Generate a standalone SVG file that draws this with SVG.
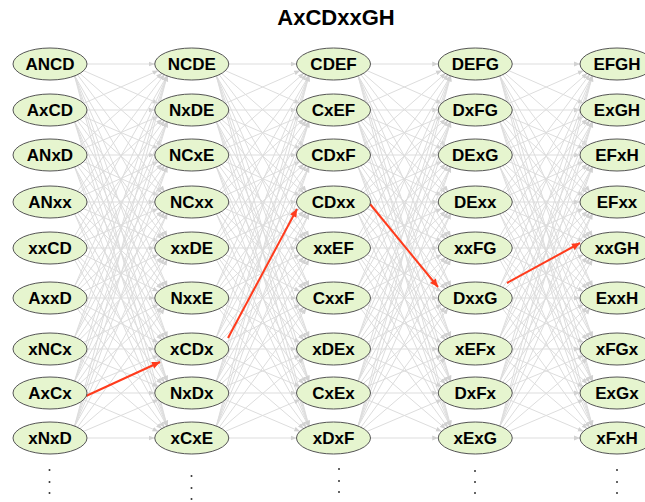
<svg xmlns="http://www.w3.org/2000/svg" xmlns:xlink="http://www.w3.org/1999/xlink" width="645" height="502" viewBox="0 0 645 502">
<style>
.e line{stroke:#dddddd;stroke-width:1;fill:none;marker-end:url(#ag)}
.r{stroke:#ff3b1c;stroke-width:2;fill:none;marker-end:url(#ar)}
.node ellipse{fill:#e6f5cf;stroke:#555;stroke-width:1}
.node text{font-family:"Liberation Sans",Arial,sans-serif;font-weight:bold;font-size:17px;fill:#000;text-anchor:middle}
.title{font-family:"Liberation Sans",Arial,sans-serif;font-weight:bold;font-size:22px;fill:#000;text-anchor:middle}
.dot{fill:#333}
</style>
<defs>
<marker id="ag" viewBox="0 0 10 10" refX="10" refY="5" markerWidth="6" markerHeight="6" markerUnits="userSpaceOnUse" orient="auto"><path d="M0,1 L10,5 L0,9 z" fill="#d2d2d2"/></marker>
<marker id="ar" viewBox="0 0 10 10" refX="10" refY="5" markerWidth="9" markerHeight="8" markerUnits="userSpaceOnUse" orient="auto"><path d="M0,0.5 L10,5 L0,9.5 z" fill="#ff3b1c"/></marker>
</defs>
<rect width="645" height="502" fill="#fff"/>
<text class="title" x="336" y="25">AxCDxxGH</text>
<g id="connectors">
<g id="gap01" class="e">
<line x1="87" y1="64" x2="154.75" y2="64"/>
<line x1="83.3" y1="70.5" x2="158.45" y2="103.5"/>
<line x1="79.5" y1="73.1" x2="162.25" y2="145.9"/>
<line x1="77.1" y1="74.2" x2="164.65" y2="191.8"/>
<line x1="74.4" y1="75.3" x2="167.35" y2="236.7"/>
<line x1="74.4" y1="75.3" x2="167.35" y2="286.7"/>
<line x1="74.4" y1="75.3" x2="167.35" y2="337.7"/>
<line x1="74.4" y1="75.3" x2="167.35" y2="381.7"/>
<line x1="74.4" y1="75.3" x2="167.35" y2="426.7"/>
<line x1="83.3" y1="103.5" x2="158.45" y2="70.5"/>
<line x1="87" y1="110" x2="154.75" y2="110"/>
<line x1="83.3" y1="116.5" x2="158.45" y2="148.5"/>
<line x1="79.5" y1="119.1" x2="162.25" y2="192.9"/>
<line x1="77.1" y1="120.2" x2="164.65" y2="237.8"/>
<line x1="74.4" y1="121.3" x2="167.35" y2="286.7"/>
<line x1="74.4" y1="121.3" x2="167.35" y2="337.7"/>
<line x1="74.4" y1="121.3" x2="167.35" y2="381.7"/>
<line x1="74.4" y1="121.3" x2="167.35" y2="426.7"/>
<line x1="79.5" y1="145.9" x2="162.25" y2="73.1"/>
<line x1="83.3" y1="148.5" x2="158.45" y2="116.5"/>
<line x1="87" y1="155" x2="154.75" y2="155"/>
<line x1="83.3" y1="161.5" x2="158.45" y2="195.5"/>
<line x1="79.5" y1="164.1" x2="162.25" y2="238.9"/>
<line x1="77.1" y1="165.2" x2="164.65" y2="287.8"/>
<line x1="74.4" y1="166.3" x2="167.35" y2="337.7"/>
<line x1="74.4" y1="166.3" x2="167.35" y2="381.7"/>
<line x1="74.4" y1="166.3" x2="167.35" y2="426.7"/>
<line x1="77.1" y1="191.8" x2="164.65" y2="74.2"/>
<line x1="79.5" y1="192.9" x2="162.25" y2="119.1"/>
<line x1="83.3" y1="195.5" x2="158.45" y2="161.5"/>
<line x1="87" y1="202" x2="154.75" y2="202"/>
<line x1="83.3" y1="208.5" x2="158.45" y2="241.5"/>
<line x1="79.5" y1="211.1" x2="162.25" y2="288.9"/>
<line x1="77.1" y1="212.2" x2="164.65" y2="338.8"/>
<line x1="74.4" y1="213.3" x2="167.35" y2="381.7"/>
<line x1="74.4" y1="213.3" x2="167.35" y2="426.7"/>
<line x1="74.4" y1="236.7" x2="167.35" y2="75.3"/>
<line x1="77.1" y1="237.8" x2="164.65" y2="120.2"/>
<line x1="79.5" y1="238.9" x2="162.25" y2="164.1"/>
<line x1="83.3" y1="241.5" x2="158.45" y2="208.5"/>
<line x1="87" y1="248" x2="154.75" y2="248"/>
<line x1="83.3" y1="254.5" x2="158.45" y2="291.5"/>
<line x1="79.5" y1="257.1" x2="162.25" y2="339.9"/>
<line x1="77.1" y1="258.2" x2="164.65" y2="382.8"/>
<line x1="74.4" y1="259.3" x2="167.35" y2="426.7"/>
<line x1="74.4" y1="286.7" x2="167.35" y2="75.3"/>
<line x1="74.4" y1="286.7" x2="167.35" y2="121.3"/>
<line x1="77.1" y1="287.8" x2="164.65" y2="165.2"/>
<line x1="79.5" y1="288.9" x2="162.25" y2="211.1"/>
<line x1="83.3" y1="291.5" x2="158.45" y2="254.5"/>
<line x1="87" y1="298" x2="154.75" y2="298"/>
<line x1="83.3" y1="304.5" x2="158.45" y2="342.5"/>
<line x1="79.5" y1="307.1" x2="162.25" y2="383.9"/>
<line x1="77.1" y1="308.2" x2="164.65" y2="427.8"/>
<line x1="74.4" y1="337.7" x2="167.35" y2="75.3"/>
<line x1="74.4" y1="337.7" x2="167.35" y2="121.3"/>
<line x1="74.4" y1="337.7" x2="167.35" y2="166.3"/>
<line x1="77.1" y1="338.8" x2="164.65" y2="212.2"/>
<line x1="79.5" y1="339.9" x2="162.25" y2="257.1"/>
<line x1="83.3" y1="342.5" x2="158.45" y2="304.5"/>
<line x1="87" y1="349" x2="154.75" y2="349"/>
<line x1="83.3" y1="355.5" x2="158.45" y2="386.5"/>
<line x1="79.5" y1="358.1" x2="162.25" y2="428.9"/>
<line x1="74.4" y1="381.7" x2="167.35" y2="75.3"/>
<line x1="74.4" y1="381.7" x2="167.35" y2="121.3"/>
<line x1="74.4" y1="381.7" x2="167.35" y2="166.3"/>
<line x1="74.4" y1="381.7" x2="167.35" y2="213.3"/>
<line x1="77.1" y1="382.8" x2="164.65" y2="258.2"/>
<line x1="79.5" y1="383.9" x2="162.25" y2="307.1"/>
<line x1="83.3" y1="386.5" x2="158.45" y2="355.5"/>
<line x1="87" y1="393" x2="154.75" y2="393"/>
<line x1="83.3" y1="399.5" x2="158.45" y2="431.5"/>
<line x1="74.4" y1="426.7" x2="167.35" y2="75.3"/>
<line x1="74.4" y1="426.7" x2="167.35" y2="121.3"/>
<line x1="74.4" y1="426.7" x2="167.35" y2="166.3"/>
<line x1="74.4" y1="426.7" x2="167.35" y2="213.3"/>
<line x1="74.4" y1="426.7" x2="167.35" y2="259.3"/>
<line x1="77.1" y1="427.8" x2="164.65" y2="308.2"/>
<line x1="79.5" y1="428.9" x2="162.25" y2="358.1"/>
<line x1="83.3" y1="431.5" x2="158.45" y2="399.5"/>
<line x1="87" y1="438" x2="154.75" y2="438"/>
</g>
<use id="gap12" xlink:href="#gap01" href="#gap01" transform="translate(141.75 0)"/>
<use id="gap23" xlink:href="#gap01" href="#gap01" transform="translate(283.5 0)"/>
<use id="gap34" xlink:href="#gap01" href="#gap01" transform="translate(425.25 0)"/>
<g id="path-red">
<line class="r" x1="86" y1="396" x2="160" y2="362"/>
<line class="r" x1="228" y1="338" x2="297" y2="209"/>
<line class="r" x1="370" y1="204" x2="438" y2="287"/>
<line class="r" x1="507" y1="283" x2="580" y2="243"/>
</g>
</g>
<g id="nodes">
<g id="node-ANCD" class="node"><ellipse cx="50" cy="64" rx="37" ry="16"/><text x="50" y="70">ANCD</text></g>
<g id="node-AxCD" class="node"><ellipse cx="50" cy="110" rx="37" ry="16"/><text x="50" y="116">AxCD</text></g>
<g id="node-ANxD" class="node"><ellipse cx="50" cy="155" rx="37" ry="16"/><text x="50" y="161">ANxD</text></g>
<g id="node-ANxx" class="node"><ellipse cx="50" cy="202" rx="37" ry="16"/><text x="50" y="208">ANxx</text></g>
<g id="node-xxCD" class="node"><ellipse cx="50" cy="248" rx="37" ry="16"/><text x="50" y="254">xxCD</text></g>
<g id="node-AxxD" class="node"><ellipse cx="50" cy="298" rx="37" ry="16"/><text x="50" y="304">AxxD</text></g>
<g id="node-xNCx" class="node"><ellipse cx="50" cy="349" rx="37" ry="16"/><text x="50" y="355">xNCx</text></g>
<g id="node-AxCx" class="node"><ellipse cx="50" cy="393" rx="37" ry="16"/><text x="50" y="399">AxCx</text></g>
<g id="node-xNxD" class="node"><ellipse cx="50" cy="438" rx="37" ry="16"/><text x="50" y="444">xNxD</text></g>

<g id="node-NCDE" class="node"><ellipse cx="191.75" cy="64" rx="37" ry="16"/><text x="191.75" y="70">NCDE</text></g>
<g id="node-NxDE" class="node"><ellipse cx="191.75" cy="110" rx="37" ry="16"/><text x="191.75" y="116">NxDE</text></g>
<g id="node-NCxE" class="node"><ellipse cx="191.75" cy="155" rx="37" ry="16"/><text x="191.75" y="161">NCxE</text></g>
<g id="node-NCxx" class="node"><ellipse cx="191.75" cy="202" rx="37" ry="16"/><text x="191.75" y="208">NCxx</text></g>
<g id="node-xxDE" class="node"><ellipse cx="191.75" cy="248" rx="37" ry="16"/><text x="191.75" y="254">xxDE</text></g>
<g id="node-NxxE" class="node"><ellipse cx="191.75" cy="298" rx="37" ry="16"/><text x="191.75" y="304">NxxE</text></g>
<g id="node-xCDx" class="node"><ellipse cx="191.75" cy="349" rx="37" ry="16"/><text x="191.75" y="355">xCDx</text></g>
<g id="node-NxDx" class="node"><ellipse cx="191.75" cy="393" rx="37" ry="16"/><text x="191.75" y="399">NxDx</text></g>
<g id="node-xCxE" class="node"><ellipse cx="191.75" cy="438" rx="37" ry="16"/><text x="191.75" y="444">xCxE</text></g>

<g id="node-CDEF" class="node"><ellipse cx="333.5" cy="64" rx="37" ry="16"/><text x="333.5" y="70">CDEF</text></g>
<g id="node-CxEF" class="node"><ellipse cx="333.5" cy="110" rx="37" ry="16"/><text x="333.5" y="116">CxEF</text></g>
<g id="node-CDxF" class="node"><ellipse cx="333.5" cy="155" rx="37" ry="16"/><text x="333.5" y="161">CDxF</text></g>
<g id="node-CDxx" class="node"><ellipse cx="333.5" cy="202" rx="37" ry="16"/><text x="333.5" y="208">CDxx</text></g>
<g id="node-xxEF" class="node"><ellipse cx="333.5" cy="248" rx="37" ry="16"/><text x="333.5" y="254">xxEF</text></g>
<g id="node-CxxF" class="node"><ellipse cx="333.5" cy="298" rx="37" ry="16"/><text x="333.5" y="304">CxxF</text></g>
<g id="node-xDEx" class="node"><ellipse cx="333.5" cy="349" rx="37" ry="16"/><text x="333.5" y="355">xDEx</text></g>
<g id="node-CxEx" class="node"><ellipse cx="333.5" cy="393" rx="37" ry="16"/><text x="333.5" y="399">CxEx</text></g>
<g id="node-xDxF" class="node"><ellipse cx="333.5" cy="438" rx="37" ry="16"/><text x="333.5" y="444">xDxF</text></g>

<g id="node-DEFG" class="node"><ellipse cx="475.25" cy="64" rx="37" ry="16"/><text x="475.25" y="70">DEFG</text></g>
<g id="node-DxFG" class="node"><ellipse cx="475.25" cy="110" rx="37" ry="16"/><text x="475.25" y="116">DxFG</text></g>
<g id="node-DExG" class="node"><ellipse cx="475.25" cy="155" rx="37" ry="16"/><text x="475.25" y="161">DExG</text></g>
<g id="node-DExx" class="node"><ellipse cx="475.25" cy="202" rx="37" ry="16"/><text x="475.25" y="208">DExx</text></g>
<g id="node-xxFG" class="node"><ellipse cx="475.25" cy="248" rx="37" ry="16"/><text x="475.25" y="254">xxFG</text></g>
<g id="node-DxxG" class="node"><ellipse cx="475.25" cy="298" rx="37" ry="16"/><text x="475.25" y="304">DxxG</text></g>
<g id="node-xEFx" class="node"><ellipse cx="475.25" cy="349" rx="37" ry="16"/><text x="475.25" y="355">xEFx</text></g>
<g id="node-DxFx" class="node"><ellipse cx="475.25" cy="393" rx="37" ry="16"/><text x="475.25" y="399">DxFx</text></g>
<g id="node-xExG" class="node"><ellipse cx="475.25" cy="438" rx="37" ry="16"/><text x="475.25" y="444">xExG</text></g>

<g id="node-EFGH" class="node"><ellipse cx="617" cy="64" rx="37" ry="16"/><text x="617" y="70">EFGH</text></g>
<g id="node-ExGH" class="node"><ellipse cx="617" cy="110" rx="37" ry="16"/><text x="617" y="116">ExGH</text></g>
<g id="node-EFxH" class="node"><ellipse cx="617" cy="155" rx="37" ry="16"/><text x="617" y="161">EFxH</text></g>
<g id="node-EFxx" class="node"><ellipse cx="617" cy="202" rx="37" ry="16"/><text x="617" y="208">EFxx</text></g>
<g id="node-xxGH" class="node"><ellipse cx="617" cy="248" rx="37" ry="16"/><text x="617" y="254">xxGH</text></g>
<g id="node-ExxH" class="node"><ellipse cx="617" cy="298" rx="37" ry="16"/><text x="617" y="304">ExxH</text></g>
<g id="node-xFGx" class="node"><ellipse cx="617" cy="349" rx="37" ry="16"/><text x="617" y="355">xFGx</text></g>
<g id="node-ExGx" class="node"><ellipse cx="617" cy="393" rx="37" ry="16"/><text x="617" y="399">ExGx</text></g>
<g id="node-xFxH" class="node"><ellipse cx="617" cy="438" rx="37" ry="16"/><text x="617" y="444">xFxH</text></g>
</g>
<g id="ellipsis-dots">
<circle class="dot" cx="49.5" cy="470" r="1"/><circle class="dot" cx="49.5" cy="482" r="1"/><circle class="dot" cx="49.5" cy="493" r="1"/>
<circle class="dot" cx="191.5" cy="476" r="1"/><circle class="dot" cx="191.5" cy="488" r="1"/><circle class="dot" cx="191.5" cy="499" r="1"/>
<circle class="dot" cx="339" cy="469" r="1"/><circle class="dot" cx="339" cy="481" r="1"/><circle class="dot" cx="339" cy="492" r="1"/>
<circle class="dot" cx="475" cy="471" r="1"/><circle class="dot" cx="475" cy="482" r="1"/><circle class="dot" cx="475" cy="493" r="1"/>
<circle class="dot" cx="617" cy="470" r="1"/><circle class="dot" cx="617" cy="482" r="1"/><circle class="dot" cx="617" cy="493" r="1"/>
</g>
</svg>
